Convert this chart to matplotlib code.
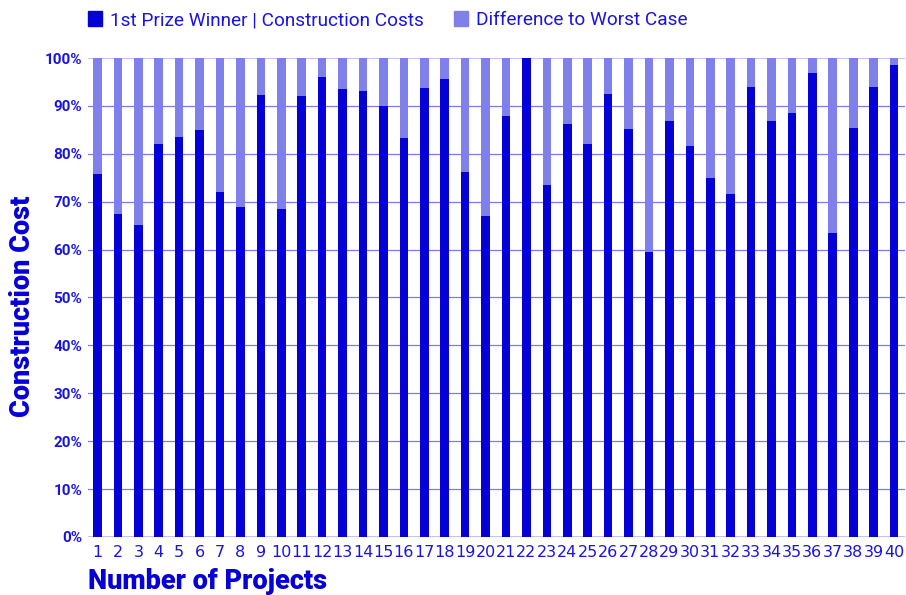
import numpy as np
import matplotlib.pyplot as plt
from matplotlib.patches import Patch
from matplotlib.ticker import PercentFormatter

# Data (share of worst-case cost, in %)
projects = list(range(1, 41))
winner_cost = [75.8, 67.4, 65.1, 82.0, 83.5, 85.0, 72.0, 68.8, 92.3, 68.4,
               92.1, 96.0, 93.5, 93.1, 90.0, 83.2, 93.7, 95.6, 76.2, 67.1,
               87.9, 100.0, 73.4, 86.3, 82.0, 92.4, 85.2, 59.6, 86.8, 81.7,
               74.9, 71.6, 93.9, 86.8, 88.6, 96.9, 63.4, 85.3, 93.9, 98.6]
difference = [100 - v for v in winner_cost]
y_ticks = list(range(0, 101, 10))

dark_blue = '#0500d6'
light_blue = '#8080ea'
text_blue = '#1a14e0'

plt.rcParams['font.family'] = ['Roboto', 'DejaVu Sans']

fig = plt.figure(figsize=(9.06, 5.95), dpi=100)
ax = fig.add_axes([0.097, 0.0975, 0.902, 0.805])

x = np.array(projects)
ax.bar(x, winner_cost, width=0.42, color=dark_blue, zorder=3)
ax.bar(x, difference, width=0.42, bottom=winner_cost, color=light_blue, zorder=3)

ax.set_xlim(0.53, 40.54)
ax.set_ylim(0, 100)
ax.set_yticks(y_ticks)
ax.yaxis.set_major_formatter(PercentFormatter(decimals=0))
ax.set_xticks(x)
ax.set_xticklabels([str(p) for p in projects], family=['Liberation Sans Narrow', 'DejaVu Sans'])

for s in ax.spines.values():
    s.set_visible(False)
ax.tick_params(axis='both', length=0, colors=text_blue)
ax.tick_params(axis='x', labelsize=11.5, pad=6)
ax.tick_params(axis='y', labelsize=11, pad=4)
for lbl in ax.get_yticklabels():
    lbl.set_fontweight('bold')

# gridlines: outer ones lighter
for v in y_ticks:
    c = '#b8b8f4' if v in (0, 100) else '#7a7aec'
    ax.axhline(v, color=c, lw=1.2 if v in (0, 100) else 0.9, zorder=1)

ax.set_ylabel('Construction Cost', fontsize=19.5, fontweight='black', color=dark_blue)
ax.yaxis.set_label_coords(-0.063, 0.482)
fig.text(0.097, 0.022, 'Number of Projects', fontsize=19.5, fontweight='black', color=dark_blue,
         ha='left', va='center')

handles = [Patch(color=dark_blue, label='1st Prize Winner | Construction Costs'),
           Patch(color=light_blue, label='Difference to Worst Case')]
leg = fig.legend(handles=handles, loc='center left', bbox_to_anchor=(0.078, 0.966), ncol=2,
                 frameon=False, fontsize=13.7, handlelength=0.75, handleheight=0.8,
                 handletextpad=0.4, columnspacing=1.6)
for t in leg.get_texts():
    t.set_color(text_blue)

fig.savefig('out.png', dpi=100)
